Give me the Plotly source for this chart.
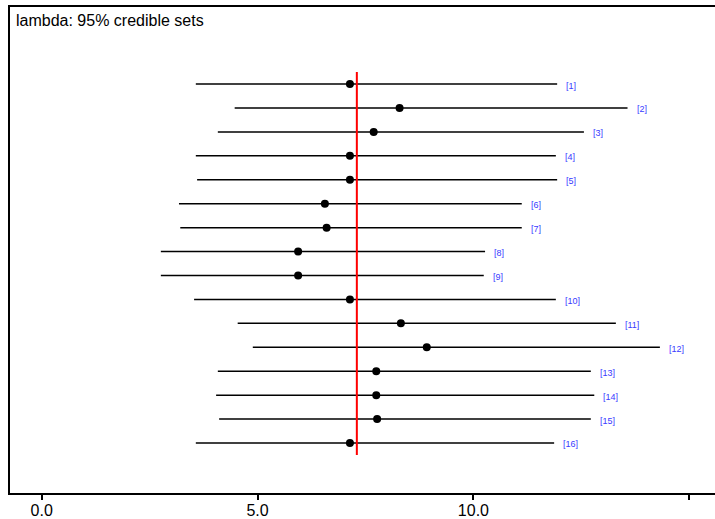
import plotly.graph_objects as go

labels = ["[%d]" % i for i in range(1, 17)]
rows = list(range(1, 17))
lower = [3.57, 4.47, 4.08, 3.57, 3.60, 3.18, 3.21, 2.76, 2.76, 3.53, 4.54, 4.89, 4.08, 4.04, 4.11, 3.57]
mean = [7.14, 8.29, 7.69, 7.14, 7.14, 6.56, 6.60, 5.94, 5.94, 7.14, 8.32, 8.92, 7.75, 7.75, 7.77, 7.14]
upper = [11.94, 13.57, 12.56, 11.91, 11.94, 11.12, 11.12, 10.27, 10.24, 11.91, 13.30, 14.32, 12.72, 12.80, 12.72, 11.87]
overall = 7.30
tick_vals = [0, 5, 10, 15]
tick_text = ["0.0", "5.0", "10.0", ""]
title = "lambda: 95% credible sets"

seg_x, seg_y = [], []
for lo, hi, r in zip(lower, upper, rows):
    seg_x += [lo, hi, None]
    seg_y += [r, r, None]

fig = go.Figure()
fig.add_trace(go.Scatter(x=seg_x, y=seg_y, mode="lines",
                         line=dict(color="black", width=1.5),
                         hoverinfo="skip", showlegend=False))
fig.add_trace(go.Scatter(x=[overall, overall], y=[rows[0] - 0.5, rows[-1] + 0.5],
                         mode="lines", line=dict(color="red", width=2),
                         hoverinfo="skip", showlegend=False))
fig.add_trace(go.Scatter(x=mean, y=rows, mode="markers",
                         marker=dict(color="black", size=8, symbol="circle"),
                         showlegend=False))

for hi, r, lab in zip(upper, rows, labels):
    fig.add_annotation(x=hi, y=r, text=lab, showarrow=False,
                       xanchor="left", yanchor="middle", xshift=7, yshift=-1.5,
                       font=dict(family="Liberation Sans, Arial", size=9, color="#3a3aff"))

fig.add_annotation(x=0.006, y=1 - 13 / 486, xref="paper", yref="paper",
                   text=title, showarrow=False, xanchor="left", yanchor="middle",
                   font=dict(family="Liberation Sans, Arial", size=16, color="black"))

x_left = -(41.7 - 10) / 43.17
x_right = x_left + 705 / 43.17

fig.update_layout(
    width=715, height=519,
    margin=dict(l=10, r=0, t=7, b=26, autoexpand=False),
    paper_bgcolor="white", plot_bgcolor="white",
    font=dict(family="Liberation Sans, Arial", color="black"),
    xaxis=dict(range=[x_left, x_right], showgrid=False, zeroline=False,
               automargin=False,
               showline=True, mirror=True, linecolor="black", linewidth=1.5,
               ticks="outside", ticklen=5, tickwidth=1.5, tickcolor="black",
               tickvals=tick_vals, ticktext=tick_text, ticklabelstandoff=-3,
               tickfont=dict(size=16, color="black")),
    yaxis=dict(range=[18.09, -2.22], showgrid=False, zeroline=False,
               automargin=False,
               showline=True, linecolor="black", linewidth=1.5,
               showticklabels=False, ticks=""),
)

fig.write_html("out.html", config={"displayModeBar": False},
               post_script="document.body.style.margin='0';document.body.style.overflow='hidden';")
